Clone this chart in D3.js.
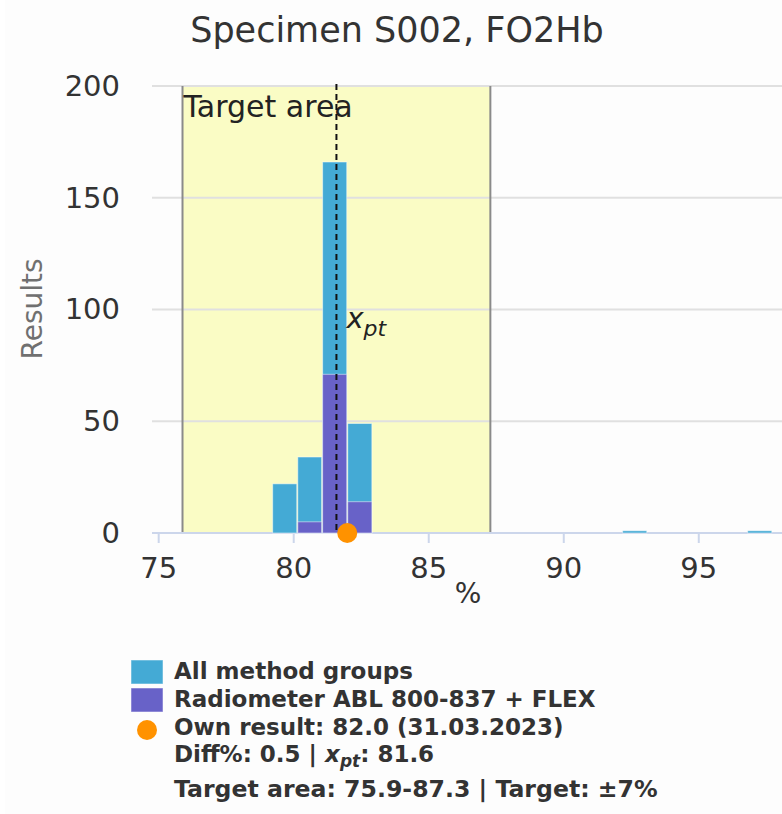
<!DOCTYPE html>
<html>
<head>
<meta charset="utf-8">
<script src="https://cdn.jsdelivr.net/npm/d3@7"></script>
<style>
  body { margin: 0; background: #fdfdfd; }
  svg { display: block; font-family: "DejaVu Sans", Verdana, sans-serif; }
</style>
</head>
<body>
<div id="chart"></div>
<script>
width = 782;
height = 814;
plot_box = {left: 152, right: 782, top: 86, bottom: 533};

// histogram bins (lower / upper edge, %) and counts
var binLow = [79.22, 80.15, 81.07, 82.00, 92.18, 96.81];
var binHigh = [80.15, 81.07, 82.00, 82.93, 93.11, 97.74];
var allGroups = [22, 34, 166, 49, 1, 1];
var radiometer = [0, 5, 71, 14, 0, 0];

var xTicks = [75, 80, 85, 90, 95];
var yTicks = [0, 50, 100, 150, 200];

var targetLow = 75.9;
var targetHigh = 87.3;
var xpt = 81.6;
var ownResult = 82.0;

var titleText = "Specimen S002, FO2Hb";
var legendItems = ["All method groups", "Radiometer ABL 800-837 + FLEX", "Own result: 82.0 (31.03.2023)"];

var colAll = "#44aad5";
var colRadio = "#6862c8";
var colOwn = "#ff9200";

var xScale = d3.scaleLinear().domain([74.77, 98.1]).range([plot_box.left, plot_box.right]);
var yScale = d3.scaleLinear().domain([0, 200]).range([plot_box.bottom, plot_box.top]);

var svg = d3.select("#chart").append("svg")
    .attr("width", width)
    .attr("height", height);

svg.append("rect").attr("x", 0).attr("y", 0).attr("width", 5).attr("height", height).attr("fill", "#fff");

// title
svg.append("text")
    .attr("x", 397).attr("y", 42)
    .attr("text-anchor", "middle")
    .attr("font-size", 35)
    .attr("fill", "#333")
    .text(titleText);

// target area band
svg.append("rect")
    .attr("x", xScale(targetLow))
    .attr("y", yScale(200))
    .attr("width", xScale(targetHigh) - xScale(targetLow))
    .attr("height", yScale(0) - yScale(200))
    .attr("fill", "#fafcc5");

// grid lines
svg.append("g").selectAll("line")
    .data(yTicks.filter(d => d > 0))
    .enter().append("line")
    .attr("x1", plot_box.left).attr("x2", plot_box.right)
    .attr("y1", d => yScale(d)).attr("y2", d => yScale(d))
    .attr("stroke", "#e0e0e0")
    .attr("stroke-width", 2);

[targetLow, targetHigh].forEach(function(v) {
    svg.append("line")
        .attr("x1", xScale(v)).attr("x2", xScale(v))
        .attr("y1", yScale(200)).attr("y2", yScale(0))
        .attr("stroke", "#8a8a8a")
        .attr("stroke-width", 2);
});

svg.append("text")
    .attr("x", xScale(targetLow) + 1).attr("y", 117)
    .attr("font-size", 30)
    .attr("fill", "#222")
    .text("Target area");

// x axis
var xAxis = d3.axisBottom(xScale).tickValues(xTicks).tickSize(10).tickPadding(8);
var gx = svg.append("g")
    .attr("transform", "translate(0," + plot_box.bottom + ")")
    .call(xAxis);
gx.select(".domain").remove();
gx.selectAll(".tick line").attr("stroke", "#ccd6eb").attr("stroke-width", 2);
gx.selectAll(".tick text").attr("font-size", 29).attr("fill", "#333").attr("font-family", "DejaVu Sans").attr("dy", "0.71em");
gx.selectAll(".tick text").attr("y", 24);

svg.append("line")
    .attr("x1", plot_box.left).attr("x2", plot_box.right)
    .attr("y1", yScale(0)).attr("y2", yScale(0))
    .attr("stroke", "#ccd6eb")
    .attr("stroke-width", 2);

// y axis labels
var yAxis = d3.axisLeft(yScale).tickValues(yTicks).tickSize(0).tickPadding(0);
var gy = svg.append("g")
    .attr("transform", "translate(120,0)")
    .call(yAxis);
gy.select(".domain").remove();
gy.selectAll(".tick text").attr("font-size", 29).attr("fill", "#333").attr("font-family", "DejaVu Sans").attr("dy", "0.32em");

svg.append("text")
    .attr("transform", "translate(42,309) rotate(-90)")
    .attr("text-anchor", "middle")
    .attr("font-size", 28)
    .attr("fill", "#707070")
    .text("Results");

svg.append("text")
    .attr("x", 468).attr("y", 603)
    .attr("text-anchor", "middle")
    .attr("font-size", 28)
    .attr("fill", "#333")
    .text("%");

// bars
var idx = d3.range(binLow.length);
svg.append("g").selectAll("rect")
    .data(idx)
    .enter().append("rect")
    .attr("x", i => xScale(binLow[i]) + 0.5)
    .attr("width", i => xScale(binHigh[i]) - xScale(binLow[i]) - 1)
    .attr("y", i => yScale(allGroups[i]))
    .attr("height", i => yScale(0) - yScale(allGroups[i]))
    .attr("fill", colAll)
    .attr("stroke", "#fff")
    .attr("stroke-opacity", 0.5)
    .attr("stroke-width", 1);

svg.append("g").selectAll("rect")
    .data(idx.filter(i => radiometer[i] > 0))
    .enter().append("rect")
    .attr("x", i => xScale(binLow[i]) + 0.5)
    .attr("width", i => xScale(binHigh[i]) - xScale(binLow[i]) - 1)
    .attr("y", i => yScale(radiometer[i]))
    .attr("height", i => yScale(0) - yScale(radiometer[i]))
    .attr("fill", colRadio)
    .attr("stroke", "#fff")
    .attr("stroke-opacity", 0.5)
    .attr("stroke-width", 1);

// x_pt line
svg.append("line")
    .attr("x1", xScale(xpt)).attr("x2", xScale(xpt))
    .attr("y1", yScale(200) - 2).attr("y2", yScale(0))
    .attr("stroke", "#111")
    .attr("stroke-width", 2)
    .attr("stroke-dasharray", "6,4");

var xptLabel = svg.append("text")
    .attr("x", xScale(xpt) + 10).attr("y", 328)
    .attr("font-size", 29)
    .attr("font-style", "italic")
    .attr("fill", "#222");
xptLabel.append("tspan").text("x");
xptLabel.append("tspan").attr("font-size", 22).attr("dy", 8).text("pt");

// own result
svg.append("circle")
    .attr("cx", xScale(ownResult)).attr("cy", yScale(0))
    .attr("r", 10)
    .attr("fill", colOwn);

// legend
var legend = svg.append("g").attr("font-size", 23).attr("font-weight", "bold").attr("fill", "#333");
legend.append("rect").attr("x", 131).attr("y", 660).attr("width", 32).attr("height", 24).attr("fill", colAll).attr("stroke", "#fff").attr("stroke-opacity", 0.5);
legend.append("rect").attr("x", 131).attr("y", 688).attr("width", 32).attr("height", 24).attr("fill", colRadio).attr("stroke", "#fff").attr("stroke-opacity", 0.5);
legend.append("circle").attr("cx", 147).attr("cy", 730).attr("r", 10).attr("fill", colOwn);

var legendY = [679, 707, 735];
legendItems.forEach(function(t, i) {
    legend.append("text").attr("x", 174).attr("y", legendY[i]).text(t);
});

var diffLine = legend.append("text").attr("x", 174).attr("y", 762);
diffLine.append("tspan").text("Diff%: 0.5 | ");
diffLine.append("tspan").attr("font-style", "italic").text("x");
diffLine.append("tspan").attr("font-style", "italic").attr("font-size", 17).attr("dy", 5).text("pt");
diffLine.append("tspan").attr("dy", -5).text(": 81.6");

legend.append("text").attr("x", 174).attr("y", 797).attr("font-size", 23.6).text("Target area: 75.9-87.3 | Target: \u00b17%");
</script>
</body>
</html>
